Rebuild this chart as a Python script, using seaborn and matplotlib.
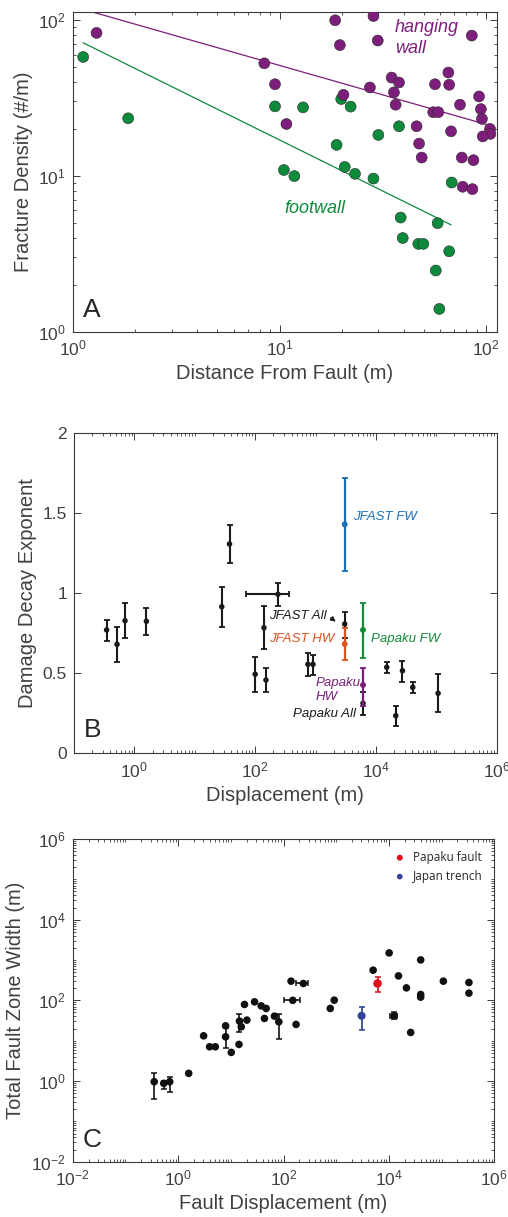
import numpy as np
import pandas as pd
import seaborn as sns
import matplotlib.pyplot as plt
from matplotlib.ticker import FixedLocator, LogLocator, NullFormatter, FuncFormatter

# ---- Painel A: densidade de fraturas x distancia da falha ----
fw_dist = [1.12, 1.85, 9.51, 13.0, 10.5, 11.8, 19.9, 22.1, 18.9, 20.7, 23.2, 28.5,
           30.1, 37.9, 68.2, 38.6, 58.3, 39.5, 47.0, 49.7, 66.3, 57.1, 59.4]
fw_dens = [57.9, 23.4, 27.9, 27.5, 10.9, 9.96, 31.1, 27.8, 15.8, 11.4, 10.3, 9.6,
           18.3, 20.8, 9.06, 5.40, 4.97, 3.99, 3.66, 3.66, 3.28, 2.47, 1.40]
hw_dist = [1.30, 8.44, 9.51, 10.8, 18.6, 19.6, 20.4, 28.5, 29.9, 27.4, 34.9, 37.9,
           35.8, 36.5, 46.1, 47.4, 48.8, 56.6, 55.5, 58.7, 65.7, 66.3, 74.8, 67.7,
           76.3, 86.9, 85.3, 92.5, 94.4, 95.5, 104.5, 105, 96.4, 77.1, 85.9]
hw_dens = [82.6, 52.7, 38.7, 21.5, 99.5, 69, 33.1, 106, 73.8, 36.9, 42.7, 39.7,
           34.3, 28.6, 20.8, 16.1, 13.1, 38.7, 25.6, 25.6, 46, 38.4, 28.6, 19.3,
           13.1, 12.6, 79.4, 32.3, 26.8, 23.2, 20, 18.6, 17.9, 8.51, 8.22]
# linhas de ajuste (extremos)
fw_fit_x = [1.12, 67.7]
fw_fit_y = [71.4, 4.85]
hw_fit_x = [1.12, 105]
hw_fit_y = [117, 21.0]

# ---- Painel B: expoente de decaimento x deslocamento ----
b_disp = [0.347, 0.516, 0.70, 1.58, 28.0, 37.6, 100, 140, 151, 238, 748, 906,
          3040, 6110, 15100, 21300, 27500, 40700, 107000]
b_exp = [0.771, 0.681, 0.829, 0.825, 0.916, 1.308, 0.494, 0.785, 0.458, 0.994,
         0.556, 0.556, 0.808, 0.3125, 0.5375, 0.235, 0.516, 0.4125, 0.375]
b_lo = [0.702, 0.569, 0.719, 0.739, 0.791, 1.191, 0.381, 0.65, 0.381, 0.921,
        0.485, 0.49, 0.72, 0.239, 0.5, 0.1725, 0.4475, 0.375, 0.256]
b_hi = [0.833, 0.791, 0.9375, 0.91, 1.041, 1.427, 0.604, 0.921, 0.531, 1.066,
        0.625, 0.615, 0.885, 0.383, 0.5725, 0.296, 0.579, 0.4475, 0.496]
b_xlo = [0.347, 0.516, 0.70, 1.58, 28.0, 37.6, 100, 140, 151, 71, 748, 906,
         3040, 6110, 15100, 21300, 27500, 40700, 107000]
b_xhi = [0.347, 0.516, 0.70, 1.58, 28.0, 37.6, 100, 140, 151, 358, 748, 906,
         3040, 6110, 15100, 21300, 27500, 40700, 107000]

b_named = ['JFAST FW', 'JFAST HW', 'Papaku FW', 'Papaku HW']
b_named_disp = [3040, 3040, 6110, 6110]
b_named_exp = [1.431, 0.683, 0.771, 0.427]
b_named_lo = [1.141, 0.583, 0.5975, 0.2975]
b_named_hi = [1.7225, 0.785, 0.9375, 0.531]
b_named_cor = ['#1a6fb5', '#d9541e', '#138a36', '#7a1f79']

# ---- Painel C: largura da zona de falha x deslocamento ----
c_disp = [5020, 10100, 15200, 21500, 40100, 40100, 40100, 108000, 330000, 330000,
          25900, 772, 918, 139, 18.2, 28.2, 37.7, 46.9, 43.5, 67.3, 173, 20.2,
          15.8, 14.3, 7.96, 10.2, 3.05, 3.96, 5.08, 1.59]
c_width = [560, 1500, 404, 204, 1006, 140, 120, 299, 277, 151,
           16.0, 63, 101, 299, 79, 91.8, 73, 63, 35.6, 40.6, 25.3, 32.4,
           22.1, 8.1, 23.4, 5.13, 13.2, 7.07, 7.07, 1.55]
# pontos com barras de erro
ce_disp = [12550, 238, 150, 81.5, 14.6, 7.96, 0.352, 0.534, 0.693]
ce_width = [41.4, 262, 100, 29.4, 30.6, 12.5, 0.96, 0.877, 0.96]
ce_lo = [34.2, 262, 100, 10.9, 16.6, 6.67, 0.35, 0.63, 0.54]
ce_hi = [51.9, 262, 100, 44.8, 45.5, 20.1, 1.6, 1.02, 1.28]
ce_xlo = [10540, 173, 101, 81.5, 14.6, 7.96, 0.352, 0.534, 0.693]
ce_xhi = [14560, 288, 209, 81.5, 14.6, 7.96, 0.352, 0.534, 0.693]

papaku_disp, papaku_width, papaku_lo, papaku_hi = 6085, 262, 157, 369
japan_disp, japan_width, japan_lo, japan_hi = 3033, 41.4, 18.3, 66.7

sns.set_style('ticks')
plt.rcParams['font.family'] = ['Liberation Sans', 'DejaVu Sans']
plt.rcParams['mathtext.fontset'] = 'custom'
plt.rcParams['mathtext.rm'] = 'Liberation Sans'
plt.rcParams['mathtext.it'] = 'Liberation Sans:italic'

roxo = '#7d1e7c'
verde = '#0c8b3c'
cinza = '#3a3a3a'
W, H = 508, 1217


def estilo(ax):
    for s in ax.spines.values():
        s.set_color(cinza)
        s.set_linewidth(0.8)
    ax.tick_params(which='both', direction='in', top=True, right=True,
                   colors=cinza, labelcolor='#404040', labelsize=12.5, pad=5)
    ax.tick_params(which='major', length=5, width=0.7)
    ax.tick_params(which='minor', length=2.5, width=0.6)


def erros(v, lo, hi):
    v = np.asarray(v, float)
    return np.vstack([v - np.asarray(lo, float), np.asarray(hi, float) - v])


fig = plt.figure(figsize=(W / 100, H / 100), dpi=100)
axA = fig.add_axes([73 / W, 1 - 331.7 / H, 424 / W, 320 / H])
axB = fig.add_axes([74 / W, 1 - 753.3 / H, 422.7 / W, 320 / H])
axC = fig.add_axes([72.7 / W, 1 - 1161.7 / H, 421.6 / W, 322.7 / H])

# ---------- A ----------
df_a = pd.DataFrame({
    'dist': fw_dist + hw_dist,
    'dens': fw_dens + hw_dens,
    'lado': ['footwall'] * len(fw_dist) + ['hanging wall'] * len(hw_dist),
})
axA.set_xscale('log')
axA.set_yscale('log')
axA.plot(fw_fit_x, fw_fit_y, color=verde, lw=0.9, zorder=2)
axA.plot(hw_fit_x, hw_fit_y, color=roxo, lw=0.9, zorder=2)
sns.scatterplot(data=df_a, x='dist', y='dens', hue='lado',
                palette={'footwall': verde, 'hanging wall': roxo},
                s=62, edgecolor='#2a2a2a', linewidth=0.4, legend=False,
                ax=axA, zorder=3)
axA.set_xlim(1, 113)
axA.set_ylim(1, 113)
estilo(axA)
axA.set_xlabel('Distance From Fault (m)', fontsize=14.5, color='#404040')
axA.set_ylabel('Fracture Density (#/m)', fontsize=14.5, color='#404040')
axA.text(36.3, 84, 'hanging', color=roxo, style='italic', fontsize=13, va='baseline')
axA.text(36.3, 61.2, 'wall', color=roxo, style='italic', fontsize=13, va='baseline')
axA.text(10.6, 5.75, 'footwall', color=verde, style='italic', fontsize=13, va='baseline')
axA.text(0.024, 0.046, 'A', transform=axA.transAxes, fontsize=19, va='baseline')

# ---------- B ----------
axB.set_xscale('log')
axB.errorbar(b_disp, b_exp, yerr=erros(b_exp, b_lo, b_hi),
             xerr=erros(b_disp, b_xlo, b_xhi), fmt='none', ecolor='#1a1a1a',
             elinewidth=1.5, capsize=2.4, capthick=1.3, zorder=2)
sns.scatterplot(x=b_disp, y=b_exp, color='#1a1a1a', s=16, edgecolor='none',
                ax=axB, zorder=3)
for nome, xd, yd, lo, hi, cor in zip(b_named, b_named_disp, b_named_exp,
                                     b_named_lo, b_named_hi, b_named_cor):
    axB.errorbar([xd], [yd], yerr=[[yd - lo], [hi - yd]], fmt='none', ecolor=cor,
                 elinewidth=1.6, capsize=2.4, capthick=1.3, zorder=4)
sns.scatterplot(x=b_named_disp, y=b_named_exp, hue=b_named, palette=dict(zip(b_named, b_named_cor)),
                s=18, edgecolor='none', legend=False, ax=axB, zorder=5)
axB.set_xlim(0.1, 1e6)
axB.set_ylim(0, 2)
axB.xaxis.set_major_locator(FixedLocator([1, 1e2, 1e4, 1e6]))
axB.xaxis.set_minor_locator(LogLocator(base=10, subs=np.arange(1, 10), numticks=30))
axB.xaxis.set_minor_formatter(NullFormatter())
axB.yaxis.set_major_locator(FixedLocator([0, 0.5, 1, 1.5, 2]))
axB.yaxis.set_major_formatter(FuncFormatter(lambda v, p: '%g' % v))
estilo(axB)
axB.set_xlabel('Displacement (m)', fontsize=14.5, color='#404040')
axB.set_ylabel('Damage Decay Exponent', fontsize=14.5, color='#404040')
tb = dict(style='italic', fontsize=9.5, va='baseline')
axB.text(4120, 1.458, 'JFAST FW', color=b_named_cor[0], ha='left', **tb)
axB.text(1530, 0.839, 'JFAST All', color='#1a1a1a', ha='right', **tb)
axB.annotate('', xy=(2350, 0.812), xytext=(1640, 0.858),
             arrowprops=dict(arrowstyle='-|>', color='#1a1a1a', lw=1.0, mutation_scale=7))
axB.text(2073, 0.6975, 'JFAST HW', color=b_named_cor[1], ha='right', **tb)
axB.text(8420, 0.6975, 'Papaku FW', color=b_named_cor[2], ha='left', **tb)
axB.text(990, 0.42, 'Papaku', color=b_named_cor[3], ha='left', **tb)
axB.text(990, 0.333, 'HW', color=b_named_cor[3], ha='left', **tb)
axB.text(4750, 0.225, 'Papaku All', color='#1a1a1a', ha='right', **tb)
axB.text(0.024, 0.051, 'B', transform=axB.transAxes, fontsize=19, va='baseline')

# ---------- C ----------
axC.set_xscale('log')
axC.set_yscale('log')
axC.errorbar(ce_disp, ce_width, yerr=erros(ce_width, ce_lo, ce_hi),
             xerr=erros(ce_disp, ce_xlo, ce_xhi), fmt='none', ecolor='#111111',
             elinewidth=1.2, capsize=2.5, capthick=1.1, zorder=2)
sns.scatterplot(x=c_disp + ce_disp, y=c_width + ce_width, color='#111111', s=30,
                edgecolor='none', ax=axC, zorder=3)
axC.errorbar([papaku_disp], [papaku_width],
             yerr=[[papaku_width - papaku_lo], [papaku_hi - papaku_width]],
             fmt='none', ecolor='#d0101e', elinewidth=1.2, capsize=2.5, capthick=1.1, zorder=4)
axC.errorbar([japan_disp], [japan_width],
             yerr=[[japan_width - japan_lo], [japan_hi - japan_width]],
             fmt='none', ecolor='#2e3c8f', elinewidth=1.2, capsize=2.5, capthick=1.1, zorder=4)
sns.scatterplot(x=[papaku_disp], y=[papaku_width], color='#e0101e', s=38,
                edgecolor='none', label='Papaku fault', ax=axC, zorder=5)
sns.scatterplot(x=[japan_disp], y=[japan_width], color='#34429a', s=34,
                edgecolor='none', label='Japan trench', ax=axC, zorder=5)
axC.set_xlim(1e-2, 1e6)
axC.set_ylim(1e-2, 1e6)
for eixo in (axC.xaxis, axC.yaxis):
    eixo.set_major_locator(FixedLocator([1e-2, 1, 1e2, 1e4, 1e6]))
    eixo.set_minor_locator(LogLocator(base=10, subs=np.arange(1, 10), numticks=40))
    eixo.set_minor_formatter(NullFormatter())
estilo(axC)
axC.set_xlabel('Fault Displacement (m)', fontsize=14.5, color='#404040')
axC.set_ylabel('Total Fault Zone Width (m)', fontsize=14.5, color='#404040')
leg = axC.legend(loc='upper right', frameon=False, fontsize=8.5, handletextpad=0.1,
                 borderaxespad=0.6, labelspacing=0.5, markerscale=0.7,
                 prop={'family': 'Open Sans', 'size': 8.5})
axC.text(0.024, 0.046, 'C', transform=axC.transAxes, fontsize=19, va='baseline')

fig.savefig('out.png', dpi=100)
